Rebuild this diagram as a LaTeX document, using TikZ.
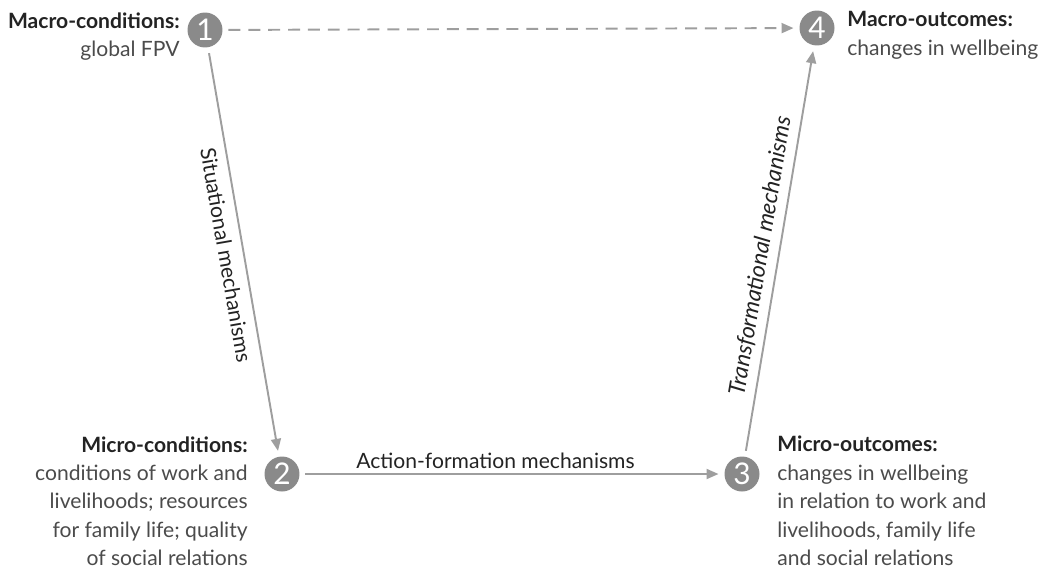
\documentclass[tikz,border=0pt]{standalone}
\usepackage{fontspec}
\setmainfont{Lato}
\usetikzlibrary{arrows.meta,positioning}
\definecolor{fpvcircle}{RGB}{138,138,138}
\definecolor{fpvarrow}{RGB}{158,158,158}
\definecolor{fpvhead}{RGB}{35,35,35}
\definecolor{fpvbody}{RGB}{75,75,75}

\begin{document}
\begin{tikzpicture}[x=0.02cm,y=-0.02cm,
  stage/.style={circle,fill=fpvcircle,text=white,minimum size=0.7cm,inner sep=0pt,
    outer sep=0.12cm,font=\fontsize{17}{17}\selectfont},
  flow/.style={draw=fpvarrow,line width=1.1pt,-{Triangle[length=0.24cm,width=0.2cm]}},
  stagetext/.style={inner sep=0pt,font=\fontsize{12}{16.2}\selectfont,text=fpvbody},
  mechlabel/.style={font=\fontsize{12}{14}\selectfont,text=fpvhead,sloped,inner sep=2.5pt}
]
  \useasboundingbox (0,0) rectangle (1052,575);

  % numbered stages
  \node[stage] (stage1) at (205,30) {1};
  \node[stage] (stage2) at (282,474) {2};
  \node[stage] (stage3) at (742,474) {3};
  \node[stage] (stage4) at (817,28) {4};

  % stage descriptions
  \node[stagetext,anchor=north east,align=right] (macrocond) at (180,12) {
    {\color{fpvhead}\bfseries Macro-conditions:}\\global FPV};
  \node[stagetext,anchor=north west,align=left] (macroout) at (847,11) {
    {\color{fpvhead}\bfseries Macro-outcomes:}\\changes in wellbeing};
  \node[stagetext,anchor=north east,align=right] (microcond) at (248,436) {
    {\color{fpvhead}\bfseries Micro-conditions:}\\conditions of work and\\livelihoods; resources\\
    for family life; quality\\of social relations};
  \node[stagetext,anchor=north west,align=left] (microout) at (777,436) {
    {\color{fpvhead}\bfseries Micro-outcomes:}\\changes in wellbeing\\in relation to work and\\
    livelihoods, family life\\and social relations};

  % mechanisms
  \draw[flow,dash pattern=on 6.8pt off 4.5pt] (stage1) -- (stage4);
  \draw[flow] (stage1) -- node[mechlabel,below,pos=0.5,inner sep=5pt] (situational) {Situational mechanisms} (stage2);
  \draw[flow] (stage2) -- node[mechlabel,above,pos=0.46] (actionform) {Action-formation mechanisms} (stage3);
  \draw[flow] (stage3) -- node[mechlabel,above,pos=0.48,inner sep=4pt,font=\fontsize{13}{14}\selectfont\itshape] (transform) {Transformational mechanisms} (stage4);
\end{tikzpicture}
\end{document}
